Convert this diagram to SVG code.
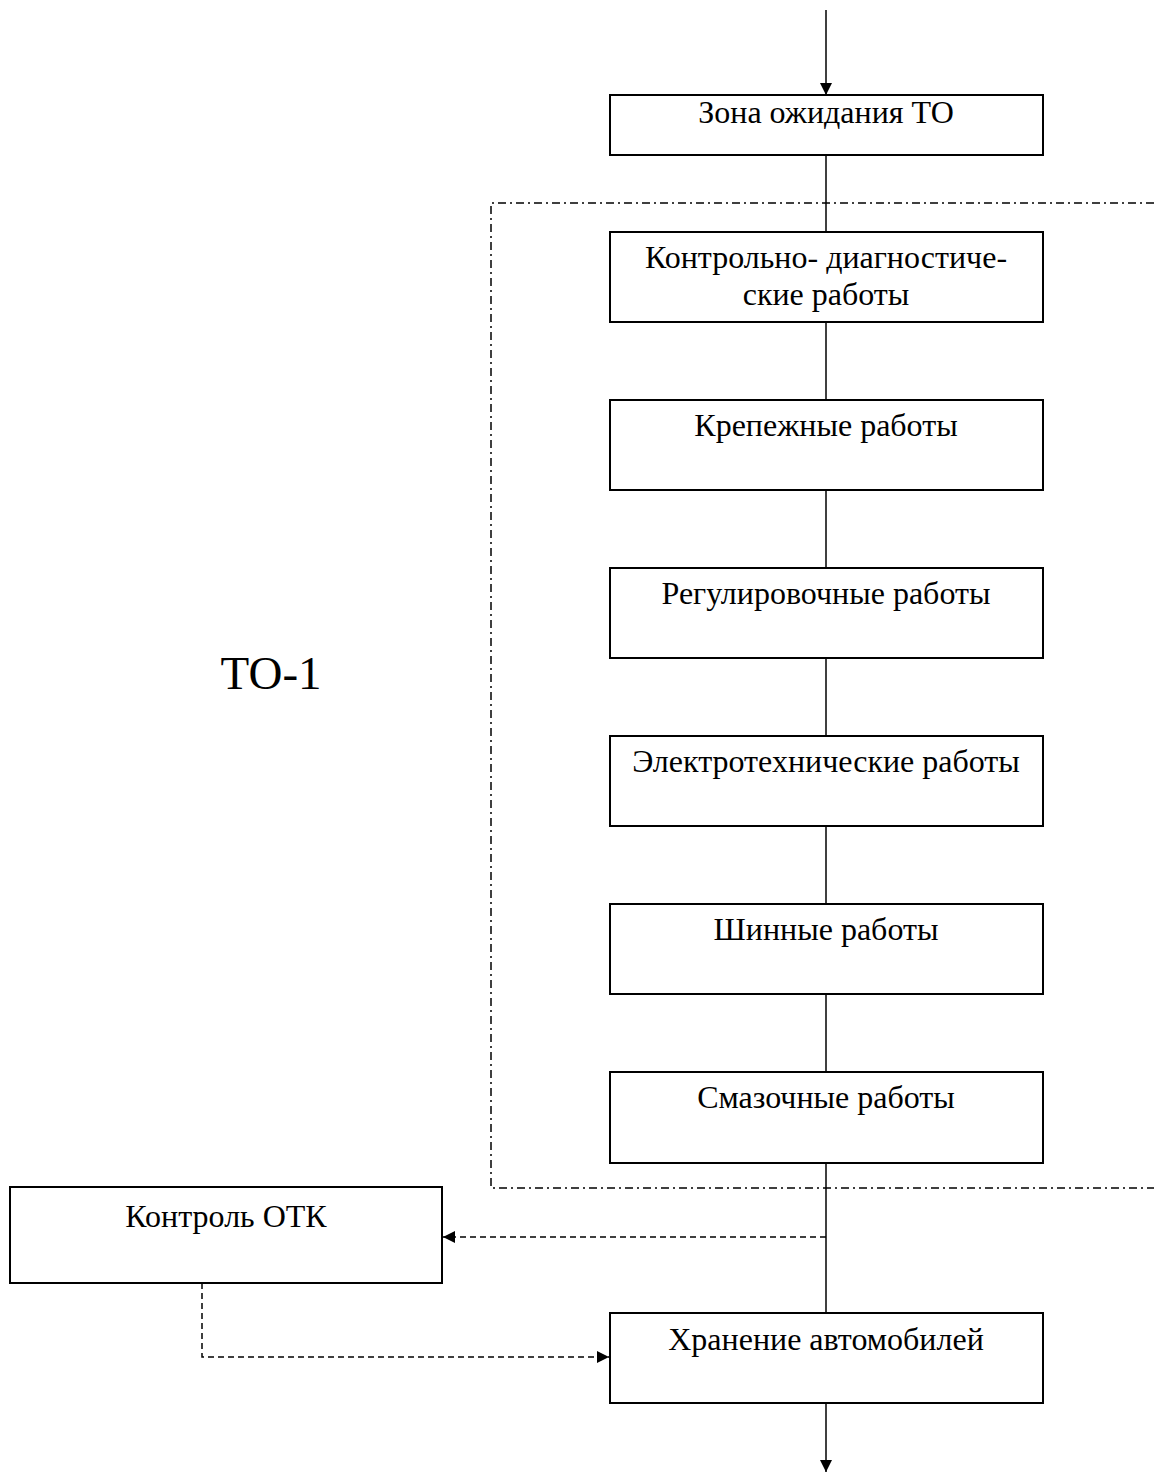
<svg xmlns="http://www.w3.org/2000/svg" width="1154" height="1472" viewBox="0 0 1154 1472">
<style>
.box{fill:#fff;stroke:#000;stroke-width:2}
.t{font-family:"Liberation Serif","Times New Roman",serif;font-size:32px;text-anchor:middle;fill:#000}
.ln{stroke:#000;stroke-width:1.5;fill:none}
.dash{stroke:#000;stroke-width:1.5;fill:none;stroke-dasharray:6 4}
.dd{stroke:#000;stroke-width:1.5;fill:none;stroke-dasharray:8 4 2 4}
</style>
<defs>
<marker id="ah" markerWidth="12" markerHeight="12" refX="10" refY="5" orient="auto" markerUnits="userSpaceOnUse" viewBox="0 0 10 10">
<path d="M0,0 L10,5 L0,10 z" fill="#000"/>
</marker>
</defs>
<g id="frame">
<path class="dd" d="M1154,203 H491 V1188 H1154"/>
</g>
<g id="connectors">
<line class="ln" x1="826" y1="10" x2="826" y2="95" marker-end="url(#ah)"/>
<line class="ln" x1="826" y1="155" x2="826" y2="232"/>
<line class="ln" x1="826" y1="322" x2="826" y2="400"/>
<line class="ln" x1="826" y1="490" x2="826" y2="568"/>
<line class="ln" x1="826" y1="658" x2="826" y2="736"/>
<line class="ln" x1="826" y1="826" x2="826" y2="904"/>
<line class="ln" x1="826" y1="994" x2="826" y2="1072"/>
<line class="ln" x1="826" y1="1163" x2="826" y2="1313"/>
<line class="ln" x1="826" y1="1403" x2="826" y2="1472" marker-end="url(#ah)"/>
<line class="dash" x1="826" y1="1237" x2="443" y2="1237" marker-end="url(#ah)"/>
<path class="dash" d="M202,1283 V1357 H609" marker-end="url(#ah)"/>
</g>
<g id="n1"><rect class="box" x="610" y="95" width="433" height="60"/><text class="t" x="826" y="123">Зона ожидания ТО</text></g>
<g id="n2"><rect class="box" x="610" y="232" width="433" height="90"/><text class="t" x="826" y="268">Контрольно- диагностиче-</text><text class="t" x="826" y="305">ские работы</text></g>
<g id="n3"><rect class="box" x="610" y="400" width="433" height="90"/><text class="t" x="826" y="436">Крепежные работы</text></g>
<g id="n4"><rect class="box" x="610" y="568" width="433" height="90"/><text class="t" x="826" y="604">Регулировочные работы</text></g>
<g id="n5"><rect class="box" x="610" y="736" width="433" height="90"/><text class="t" x="826" y="772">Электротехнические работы</text></g>
<g id="n6"><rect class="box" x="610" y="904" width="433" height="90"/><text class="t" x="826" y="940">Шинные работы</text></g>
<g id="n7"><rect class="box" x="610" y="1072" width="433" height="91"/><text class="t" x="826" y="1108">Смазочные работы</text></g>
<g id="n8"><rect class="box" x="10" y="1187" width="432" height="96"/><text class="t" x="226" y="1227">Контроль ОТК</text></g>
<g id="n9"><rect class="box" x="610" y="1313" width="433" height="90"/><text class="t" x="826" y="1350">Хранение автомобилей</text></g>
<g id="label"><text x="271" y="689" style="font-family:'Liberation Serif','Times New Roman',serif;font-size:47px;text-anchor:middle">ТО-1</text></g>
</svg>
